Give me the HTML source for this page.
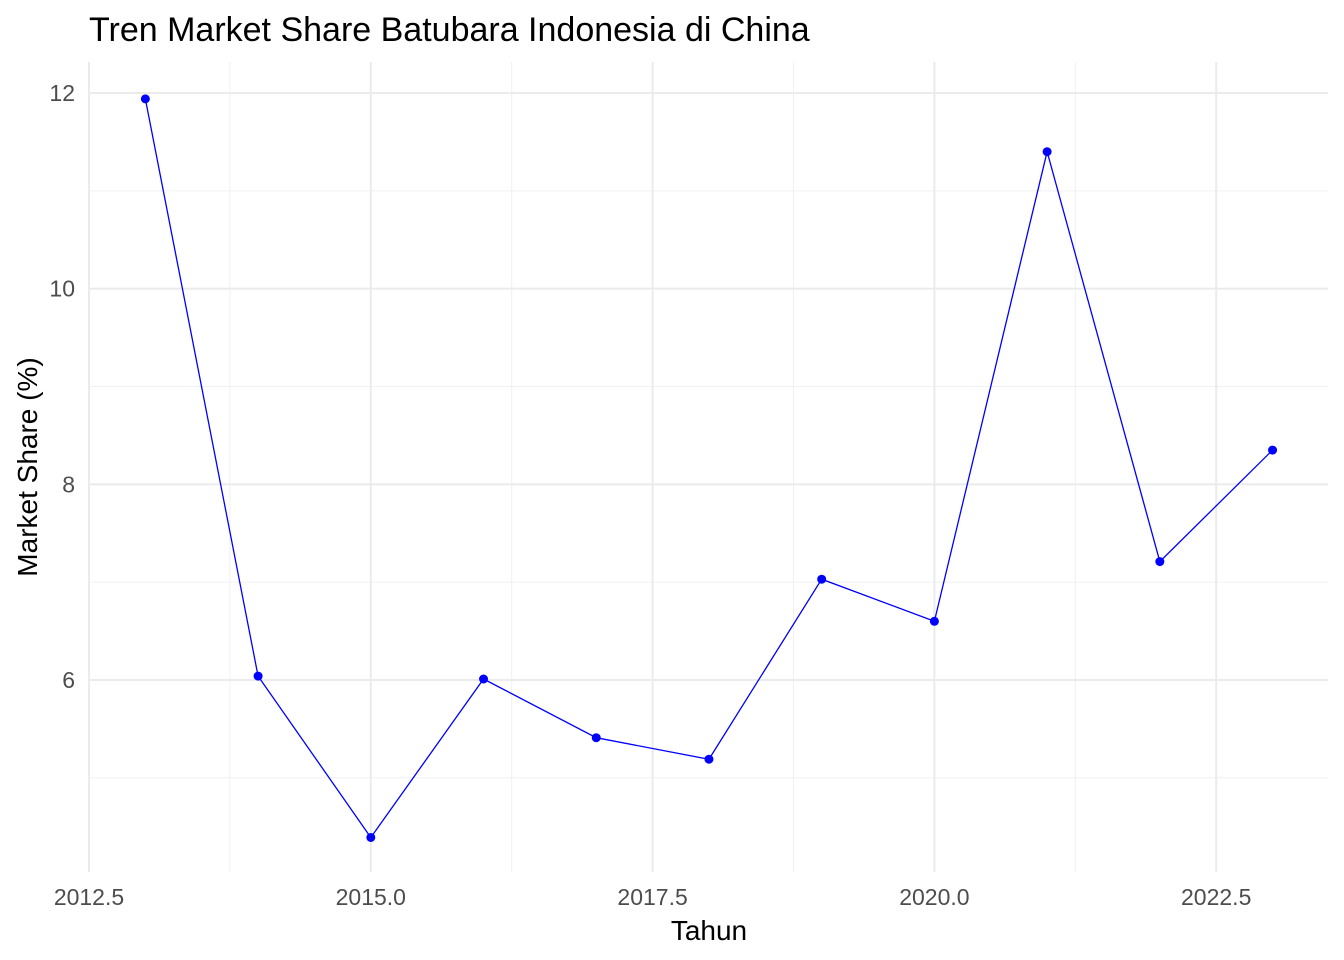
<!DOCTYPE html>
<html><head><meta charset="utf-8"><style>
body{margin:0;background:#fff;}
svg{display:block;font-family:"Liberation Sans",Arial,sans-serif;}
</style></head><body>
<svg id="chart" width="1344" height="960">
<text x="89" y="41" font-size="34" fill="#000">Tren Market Share Batubara Indonesia di China</text>
<g id="grid"></g>
<g id="ticks"></g>
<g id="series"></g>
<text x="709" y="940" font-size="28" text-anchor="middle" fill="#000">Tahun</text>
<text transform="translate(37,467) rotate(-90)" font-size="28" text-anchor="middle" fill="#000">Market Share (%)</text>
</svg>
<script>
const years=[2013,2014,2015,2016,2017,2018,2019,2020,2021,2022,2023];
const shares=[11.94,6.04,4.39,6.01,5.41,5.19,7.03,6.60,11.40,7.21,8.35];
const xTicks=[2012.5,2015.0,2017.5,2020.0,2022.5];
const xTickLabels=["2012.5","2015.0","2017.5","2020.0","2022.5"];
const yTicks=[6,8,10,12];
const yTickLabels=["6","8","10","12"];
const xMinor=[2013.75,2016.25,2018.75,2021.25];
const yMinor=[5,7,9,11];
const NS="http://www.w3.org/2000/svg";
const L=62,R=1328,T=62,B=872;
function x(v){return 89+(v-2012.5)*112.72;}
function y(v){return 93+(12-v)*97.83;}
function mk(tag,attrs,parent){const e=document.createElementNS(NS,tag);for(const k in attrs)e.setAttribute(k,attrs[k]);parent.appendChild(e);return e;}
const g=document.getElementById('grid'),tk=document.getElementById('ticks'),s=document.getElementById('series');
xMinor.forEach(v=>{const l=mk('line',{x1:x(v),x2:x(v),y1:T,y2:B,stroke:'#f0f0f0','stroke-width':1},g);

});
yMinor.forEach(v=>{const l=mk('line',{x1:89,x2:R,y1:y(v),y2:y(v),stroke:'#f0f0f0','stroke-width':1},g);

});
xTicks.forEach((v,i)=>{const l=mk('line',{x1:x(v),x2:x(v),y1:T,y2:B,stroke:'#ebebeb','stroke-width':2},g);


const t=mk('text',{x:x(v),y:905,'font-size':23,'text-anchor':'middle',fill:'#4d4d4d'},tk);t.textContent=xTickLabels[i];

});
yTicks.forEach((v,i)=>{const l=mk('line',{x1:89,x2:R,y1:y(v),y2:y(v),stroke:'#ebebeb','stroke-width':2},g);


const t=mk('text',{x:75,y:y(v)+8,'font-size':23,'text-anchor':'end',fill:'#4d4d4d'},tk);t.textContent=yTickLabels[i];

});
const pl=mk('polyline',{points:years.map((yr,i)=>x(yr)+','+y(shares[i])).join(' '),fill:'none',stroke:'#0000ff','stroke-width':1.3},s);


years.forEach((yr,i)=>{const c=mk('circle',{cx:x(yr),cy:y(shares[i]),r:4.5,fill:'#0000ff'},s);

});
</script>
</body></html>
